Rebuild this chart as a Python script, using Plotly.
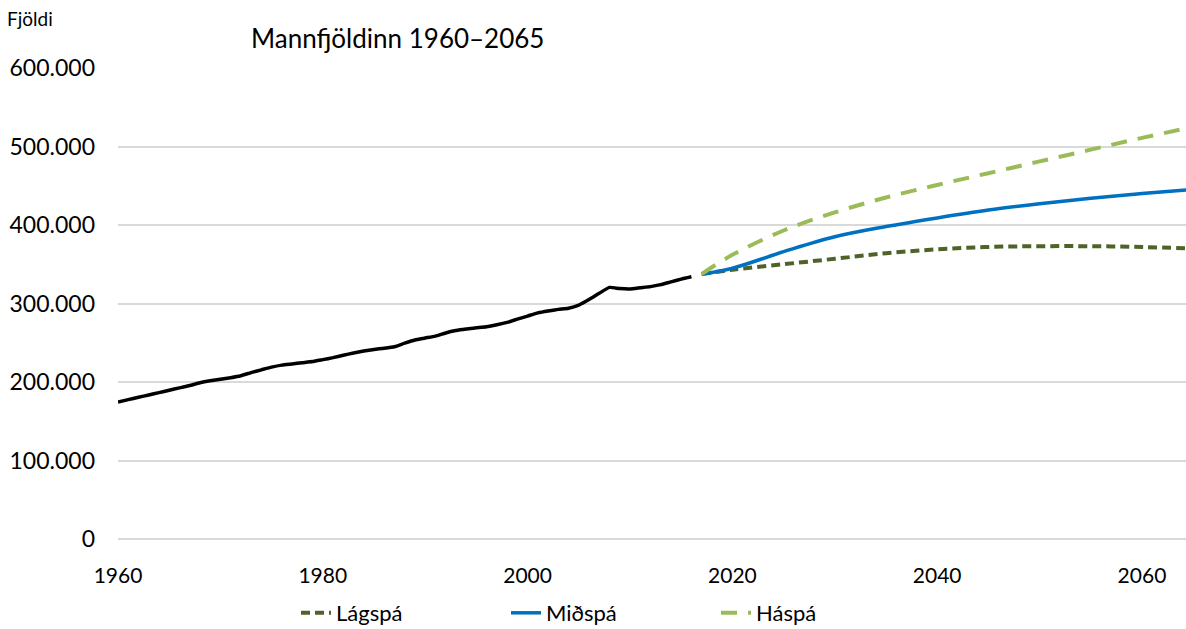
import plotly.graph_objects as go

hist_years = list(range(1960, 2017))
hist_pop = [174500, 177500, 180500, 183500, 186500, 189500, 192500, 195500, 199000, 201500,
            203500, 205500, 208000, 212000, 215500, 219000, 221500, 223000, 224500, 226000,
            228500, 231000, 234000, 237000, 239500, 241500, 243000, 245000, 249500, 253500,
            256000, 258500, 262500, 265500, 267500, 269000, 270500, 273000, 276000, 280000,
            284000, 288000, 290500, 292500, 294000, 298000, 305000, 313000, 320500, 319000,
            318500, 320000, 321500, 324000, 327500, 331000, 334000]

proj_years = [2017, 2020, 2025, 2030, 2035, 2040, 2045, 2050, 2055, 2060, 2065]
low = [337500, 343000, 350000, 357000, 364000, 369000, 372000, 373000, 373000, 372000, 370000]
mid = [337500, 345000, 366000, 385000, 398000, 409000, 419000, 427000, 434000, 440000, 445500]
high = [337500, 362000, 393000, 416000, 435000, 451000, 466000, 481000, 496000, 511000, 525000]

FONT = "Lato"
L, R, T, B = 118, 0, 68, 90
W, H = 1186, 629
pw, ph = W - L - R, H - T - B

fig = go.Figure()
fig.add_trace(go.Scatter(x=hist_years, y=hist_pop, mode="lines", showlegend=False,
                         line=dict(color="black", width=3.5, shape="spline", smoothing=0.5),
                         hoverinfo="skip"))
fig.add_trace(go.Scatter(x=proj_years, y=low, mode="lines", name="Lágspá",
                         line=dict(color="#4F6228", width=4, dash="9px,5px", shape="spline")))
fig.add_trace(go.Scatter(x=proj_years, y=mid, mode="lines", name="Miðspá",
                         line=dict(color="#0070C0", width=3.5, shape="spline")))
fig.add_trace(go.Scatter(x=proj_years, y=high, mode="lines", name="Háspá",
                         line=dict(color="#9BBB59", width=4, dash="16px,11px", shape="spline")))

fig.update_layout(
    width=W, height=H,
    margin=dict(l=L, r=R, t=T, b=B, autoexpand=False),
    paper_bgcolor="white", plot_bgcolor="white",
    separators=",.",
    font=dict(family=FONT, size=21, color="#000000"),
    showlegend=True,
    legend=dict(orientation="h", x=(296 - L) / pw, xanchor="left",
                y=-(613 - (H - B)) / ph, yanchor="middle",
                font=dict(size=22), entrywidth=165, entrywidthmode="pixels",
                traceorder="normal"),
    annotations=[
        dict(text="Mannfjöldinn 1960–2065", xref="paper", yref="paper",
             x=(249 - L) / pw, y=((H - B) - 38) / ph, xanchor="left", yanchor="middle",
             showarrow=False, font=dict(size=26)),
        dict(text="Fjöldi", xref="paper", yref="paper",
             x=-(L - 5) / pw, y=((H - B) - 18) / ph, xanchor="left", yanchor="middle",
             showarrow=False, font=dict(size=19)),
    ],
)
fig.update_xaxes(range=[1960, 2064.3], tick0=1960, dtick=20, showgrid=False,
                 showline=False, zeroline=False, ticks="", ticklabelstandoff=22,
                 tickfont=dict(size=21), automargin=False)
fig.update_yaxes(range=[0, 600000], dtick=100000, tickformat=",d", showgrid=True,
                 gridcolor="#d9d9d9", gridwidth=1.5, zeroline=True, zerolinecolor="#d9d9d9",
                 zerolinewidth=1.5, showline=False, ticks="", ticklabelstandoff=22,
                 tickfont=dict(size=23), automargin=False)

fig.write_html("out.html", config={"displayModeBar": False},
               post_script="document.body.style.margin='0';document.body.style.overflow='hidden';")
